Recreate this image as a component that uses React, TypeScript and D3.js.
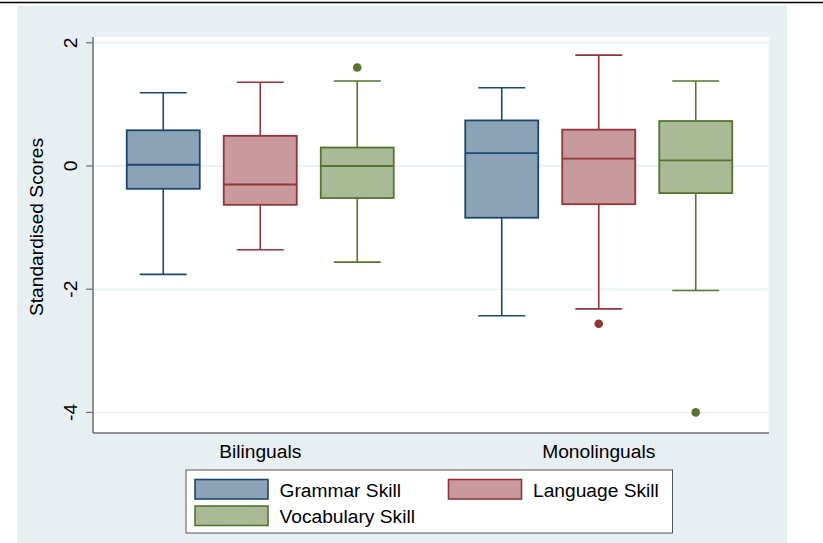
import React from "react";
import * as d3 from "d3";

const groups = ["Bilinguals", "Monolinguals"];
const series = ["Grammar Skill", "Language Skill", "Vocabulary Skill"];
const yTicks = [2, 0, -2, -4];

// per series: [Bilinguals, Monolinguals]
const lowerWhisker = [[-1.76, -2.43], [-1.36, -2.32], [-1.56, -2.02]];
const q1 = [[-0.37, -0.84], [-0.63, -0.62], [-0.52, -0.44]];
const median = [[0.02, 0.21], [-0.30, 0.12], [0.0, 0.09]];
const q3 = [[0.58, 0.74], [0.49, 0.59], [0.30, 0.73]];
const upperWhisker = [[1.19, 1.27], [1.36, 1.80], [1.38, 1.38]];
const outlierGroup = ["Bilinguals", "Monolinguals", "Monolinguals"];
const outlierSeries = ["Vocabulary Skill", "Language Skill", "Vocabulary Skill"];
const outlierValue = [1.6, -2.56, -4.0];

const strokeColors = ["#1a476f", "#90353b", "#55752f"];
const fillColors = ["#8ca3b7", "#c89a9d", "#aaba97"];

const FONT = "'Liberation Sans', Arial, Helvetica, sans-serif";
const FS = 19.2;

export default function App() {
  const W = 823, H = 543;
  const plot = { left: 93, right: 769, top: 37, bottom: 433 };
  const y = d3.scaleLinear().domain([-4, 2]).range([412.4, 42.8]);
  const xg = d3.scaleBand().domain(groups).range([91, 768]);
  const xs = d3.scalePoint().domain(series).range([-97, 97]);
  const boxW = 73, capW = 47;
  const cx = (g: string, s: string) => (xg(g) as number) + xg.bandwidth() / 2 + (xs(s) as number);

  return (
    <svg width={W} height={H} style={{ position: "absolute", left: 0, top: 0, display: "block" }} fontFamily={FONT}>
      <rect x={0} y={0} width={W} height={H} fill="#ffffff" />
      <rect x={17} y={6} width={770} height={H - 6} fill="#e8eff2" />
      <line x1={0} x2={W} y1={2.5} y2={2.5} stroke="#000" strokeWidth={1.5} />
      <rect x={plot.left} y={plot.top} width={plot.right - plot.left} height={plot.bottom - plot.top} fill="#ffffff" stroke="#f2f5f6" strokeWidth={1} />
      {yTicks.map((t) => (
        <g key={t}>
          <line x1={plot.left} x2={plot.right} y1={y(t)} y2={y(t)} stroke="#e6eff2" strokeWidth={1.5} />
          <line x1={86} x2={plot.left} y1={y(t)} y2={y(t)} stroke="#6e6e6e" strokeWidth={1.2} />
          <text transform={`translate(76.5,${y(t)}) rotate(-90)`} textAnchor="middle" fontSize={FS} fill="#000">
            {t < 0 ? `-${Math.abs(t)}` : `${t}`}
          </text>
        </g>
      ))}
      <line x1={plot.left} x2={plot.left} y1={plot.top} y2={plot.bottom} stroke="#6e6e6e" strokeWidth={1.5} />
      <line x1={plot.left} x2={plot.right} y1={plot.bottom} y2={plot.bottom} stroke="#6e6e6e" strokeWidth={1.5} />
      <text transform={`translate(42.5,227) rotate(-90)`} textAnchor="middle" fontSize={FS} fill="#000">
        Standardised Scores
      </text>
      {groups.map((g) => (
        <text key={g} x={(xg(g) as number) + xg.bandwidth() / 2} y={457.5} textAnchor="middle" fontSize={FS} fill="#000">
          {g}
        </text>
      ))}
      {series.map((s, si) =>
        groups.map((g, gi) => {
          const c = cx(g, s);
          const col = strokeColors[si];
          return (
            <g key={s + g}>
              <line x1={c} x2={c} y1={y(upperWhisker[si][gi])} y2={y(q3[si][gi])} stroke={col} strokeWidth={1.6} />
              <line x1={c} x2={c} y1={y(q1[si][gi])} y2={y(lowerWhisker[si][gi])} stroke={col} strokeWidth={1.6} />
              <line x1={c - capW / 2} x2={c + capW / 2} y1={y(upperWhisker[si][gi])} y2={y(upperWhisker[si][gi])} stroke={col} strokeWidth={1.6} />
              <line x1={c - capW / 2} x2={c + capW / 2} y1={y(lowerWhisker[si][gi])} y2={y(lowerWhisker[si][gi])} stroke={col} strokeWidth={1.6} />
              <rect x={c - boxW / 2} y={y(q3[si][gi])} width={boxW} height={y(q1[si][gi]) - y(q3[si][gi])} fill={fillColors[si]} stroke={col} strokeWidth={1.8} />
              <line x1={c - boxW / 2} x2={c + boxW / 2} y1={y(median[si][gi])} y2={y(median[si][gi])} stroke={col} strokeWidth={1.8} />
            </g>
          );
        })
      )}
      {outlierValue.map((v, i) => {
        const si = series.indexOf(outlierSeries[i]);
        return <circle key={i} cx={cx(outlierGroup[i], outlierSeries[i])} cy={y(v)} r={4.3} fill={strokeColors[si]} />;
      })}
      <rect x={186} y={470} width={486.5} height={63} fill="#ffffff" stroke="#555" strokeWidth={1} />
      {series.map((s, i) => {
        const col = i % 2;
        const row = Math.floor(i / 2);
        const sx = 195 + col * 253.5;
        const sy = 479.5 + row * 26.5;
        return (
          <g key={s}>
            <rect x={sx} y={sy} width={73} height={19.5} fill={fillColors[i]} stroke={strokeColors[i]} strokeWidth={1.6} />
            <text x={sx + 84.5} y={sy + 17} fontSize={FS} fill="#000">{s}</text>
          </g>
        );
      })}
    </svg>
  );
}
